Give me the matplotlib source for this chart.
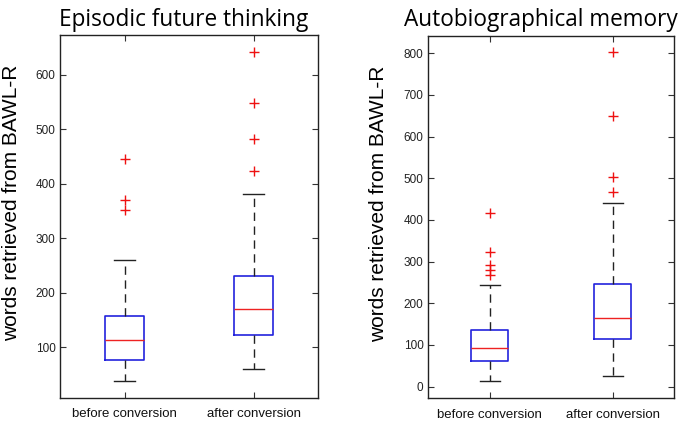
import matplotlib
matplotlib.use("Agg")
import matplotlib.pyplot as plt

categories = ["before conversion", "after conversion"]
titles = ["Episodic future thinking", "Autobiographical memory"]
ylabel = "words retrieved from BAWL-R"

# Episodic future thinking: [before, after]
eft_whislo = [39, 60]
eft_q1 = [77, 122]
eft_med = [113, 170]
eft_q3 = [158, 230]
eft_whishi = [260, 382]
eft_fliers = [[445, 371, 352], [642, 548, 482, 424]]
eft_yticks = [100, 200, 300, 400, 500, 600]
eft_ylim = (7, 673)

# Autobiographical memory: [before, after]
am_whislo = [14, 25]
am_q1 = [62, 114]
am_med = [92, 164]
am_q3 = [136, 246]
am_whishi = [243, 441]
am_fliers = [[416, 324, 291, 279, 267], [803, 649, 502, 468]]
am_yticks = [0, 100, 200, 300, 400, 500, 600, 700, 800]
am_ylim = (-28, 842)

plt.rcParams['font.family'] = ['Liberation Sans', 'DejaVu Sans']

fig = plt.figure(figsize=(6.85, 4.21), dpi=100)
W, H = 685, 421
ax1 = fig.add_axes([60.3 / W, 1 - 398 / H, 258 / W, 363 / H])
ax2 = fig.add_axes([428.3 / W, 1 - 398.3 / H, 246 / W, 362.6 / H])

panels = [
    (ax1, eft_whislo, eft_q1, eft_med, eft_q3, eft_whishi, eft_fliers, eft_yticks, eft_ylim,
     titles[0], 183.5, -0.152),
    (ax2, am_whislo, am_q1, am_med, am_q3, am_whishi, am_fliers, am_yticks, am_ylim,
     titles[1], 541, -0.164),
]

for ax, wl, q1, med, q3, wh, fl, yt, yl, title, tx, lx in panels:
    stats = []
    for i in range(len(categories)):
        stats.append(dict(whislo=wl[i], q1=q1[i], med=med[i], q3=q3[i],
                          whishi=wh[i], fliers=fl[i], label=categories[i]))
    ax.bxp(stats, positions=[1, 2], widths=0.3, capwidths=0.16,
           showfliers=True,
           boxprops=dict(color='#2222dd', linewidth=1.2),
           medianprops=dict(color='#ee2222', linewidth=1.0),
           whiskerprops=dict(color='#222222', linewidth=1.0, linestyle=(0, (6, 4))),
           capprops=dict(color='#222222', linewidth=1.0),
           flierprops=dict(marker='+', markeredgecolor='#ee1111', markersize=6.5,
                           markeredgewidth=1.0, linestyle='none'))
    ax.set_xlim(0.5, 2.5)
    ax.set_ylim(*yl)
    ax.set_yticks(yt)
    ax.set_xticks([1, 2])
    ax.set_xticklabels(categories, fontsize=9.5, color='#111111')
    ax.tick_params(axis='y', labelsize=8.5, labelcolor='#222222')
    ax.tick_params(direction='in', length=4, width=0.8, top=True, right=True,
                   color='#333333')
    ax.tick_params(axis='x', pad=7.5)
    for s in ax.spines.values():
        s.set_linewidth(1.0)
        s.set_color('#222222')
    fig.text(tx / W, 1 - 26 / H, title, fontsize=16.3, ha='center', va='baseline',
             family=['Open Sans', 'DejaVu Sans'])
    ax.set_ylabel(ylabel, fontsize=15, family=['Liberation Sans', 'DejaVu Sans'])
    ax.yaxis.set_label_coords(lx, 0.537)

fig.savefig("out.png", dpi=100)
